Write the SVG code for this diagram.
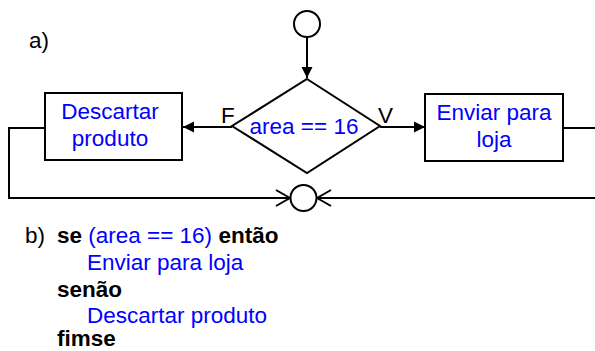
<svg xmlns="http://www.w3.org/2000/svg" width="595" height="351" viewBox="0 0 595 351">
<style>
.s{fill:none;stroke:#000;stroke-width:2}
.n{fill:#fff;stroke:#000;stroke-width:2}
.t{font-family:"Liberation Sans",Arial,sans-serif;font-size:22.5px}
.b{fill:#0000ff}
.k{fill:#000}
.bold{font-weight:bold}
</style>
<defs>
<marker id="ah" markerWidth="12" markerHeight="12" refX="11" refY="6" orient="auto" markerUnits="userSpaceOnUse">
<path d="M0,0.5 L11,6 L0,11.5 Z" fill="#000"/>
</marker>
<marker id="oh" markerWidth="16" markerHeight="20" refX="15" refY="10" orient="auto" markerUnits="userSpaceOnUse">
<path d="M1,2 L15,10 L1,18" fill="none" stroke="#000" stroke-width="2"/>
</marker>
</defs>
<rect width="595" height="351" fill="#fff"/>
<text class="t k" x="29" y="48">a)</text>
<g id="connectors">
<line class="s" x1="307" y1="37.5" x2="307" y2="78" marker-end="url(#ah)"/>
<line class="s" x1="232" y1="127" x2="183" y2="127" marker-end="url(#ah)"/>
<line class="s" x1="380" y1="127" x2="425" y2="127" marker-end="url(#ah)"/>
<polyline class="s" points="45,128 9,128 9,198 290,198" marker-end="url(#oh)"/>
<polyline class="s" points="563,128 595,128"/>
<line class="s" x1="595" y1="198" x2="317" y2="198" marker-end="url(#oh)"/>
</g>
<g id="start">
<circle class="n" cx="307" cy="24" r="13"/>
</g>
<g id="decision">
<polygon class="n" points="307,79 380,126 307,173 232,126"/>
<text class="t b" x="304" y="134" text-anchor="middle">area == 16</text>
<text class="t k" x="221" y="123">F</text>
<text class="t k" x="378" y="123">V</text>
</g>
<g id="descartar">
<rect class="n" x="45" y="93" width="137" height="67"/>
<text class="t b" x="110" y="119" text-anchor="middle">Descartar</text>
<text class="t b" x="110" y="146" text-anchor="middle">produto</text>
</g>
<g id="enviar">
<rect class="n" x="425" y="94" width="138" height="67"/>
<text class="t b" x="494" y="120" text-anchor="middle">Enviar para</text>
<text class="t b" x="494" y="147" text-anchor="middle">loja</text>
</g>
<g id="join">
<circle class="n" cx="303.5" cy="198" r="13"/>
</g>
<g id="code">
<text class="t k" x="25" y="243">b)</text>
<text class="t" x="57" y="243"><tspan class="k bold">se</tspan><tspan class="b"> (area == 16) </tspan><tspan class="k bold">então</tspan></text>
<text class="t b" x="87" y="270">Enviar para loja</text>
<text class="t k bold" x="57" y="297">senão</text>
<text class="t b" x="87" y="323">Descartar produto</text>
<text class="t k bold" x="57" y="346">fimse</text>
</g>
</svg>
